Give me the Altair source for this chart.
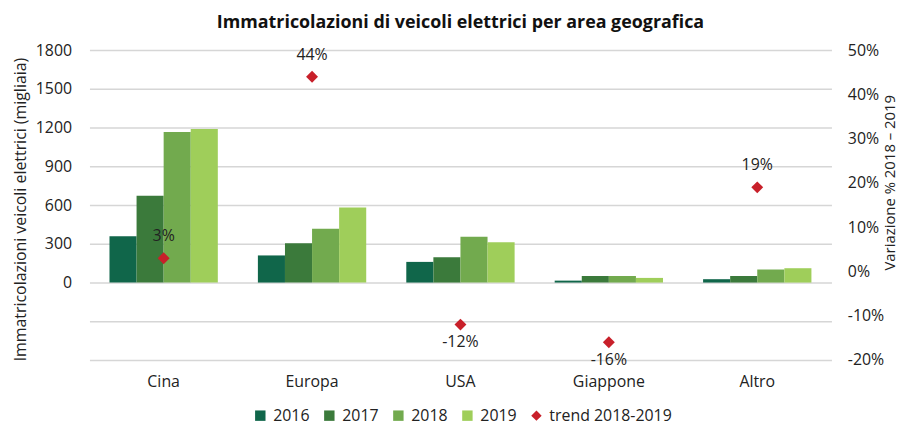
import altair as alt
import pandas as pd

categories = ["Cina", "Europa", "USA", "Giappone", "Altro"]
years = ["2016", "2017", "2018", "2019"]
v2016 = [358, 210, 160, 15, 26]
v2017 = [672, 305, 196, 51, 51]
v2018 = [1166, 416, 354, 51, 101]
v2019 = [1189, 582, 313, 36, 111]
trend = [0.03, 0.44, -0.12, -0.16, 0.19]
trend_name = "trend 2018-2019"

bar_colors = ["#10664A", "#3B7A3B", "#72AA4E", "#9FCE5A"]
trend_color = "#C8202A"

rows = []
for yr, vals in zip(years, [v2016, v2017, v2018, v2019]):
    for c, v in zip(categories, vals):
        rows.append({"area": c, "series": yr, "value": v})
df_bars = pd.DataFrame(rows)
df_trend = pd.DataFrame({"area": categories, "series": trend_name, "trend": trend})

FONT = "Open Sans"
all_series = years + [trend_name]
color_scale = alt.Scale(domain=all_series, range=bar_colors + [trend_color])
shape_scale = alt.Scale(domain=all_series, range=["square"] * 4 + ["diamond"])
leg = alt.Legend(title=None)

x_enc = alt.X("area:N", sort=categories,
              scale=alt.Scale(paddingInner=0.27, paddingOuter=0.135),
              axis=alt.Axis(title=None, labelAngle=0, ticks=False, domain=False,
                            labelPadding=14, labelFontSize=16))

bars = alt.Chart(df_bars).mark_bar().encode(
    x=x_enc,
    xOffset=alt.XOffset("series:N", sort=years),
    y=alt.Y("value:Q",
            scale=alt.Scale(domain=[-600, 1800], nice=False, zero=False),
            axis=alt.Axis(values=list(range(-600, 1801, 300)), format="d",
                          labelExpr="datum.value < 0 ? '' : datum.label",
                          grid=True, gridColor="#d6d6d6", gridWidth=1.5,
                          ticks=False, domain=False, labelPadding=18,
                          title="Immatricolazioni veicoli elettrici (migliaia)",
                          titleAngle=270, titleX=-69, titleY=160,
                          titleAlign="center", titleBaseline="middle",
                          titleFontSize=16)),
    color=alt.Color("series:N", scale=color_scale, legend=leg),
)

y_right = alt.Y("trend:Q",
                scale=alt.Scale(domain=[-0.2, 0.5], nice=False, zero=False),
                axis=alt.Axis(orient="right", format=".0%",
                              labelExpr="replace(datum.label, '\u2212', '-')",
                              values=[-0.2, -0.1, 0, 0.1, 0.2, 0.3, 0.4, 0.5],
                              grid=False, ticks=False, domain=False,
                              labelPadding=16,
                              title="Variazione % 2018 – 2019",
                              titleAngle=270, titleX=58, titleY=133,
                              titleAlign="center", titleBaseline="middle",
                              titleFontSize=15))

points = alt.Chart(df_trend).mark_point(filled=True, size=144, opacity=1).encode(
    x=alt.X("area:N", sort=categories),
    y=y_right,
    color=alt.Color("series:N", scale=color_scale, legend=leg),
    shape=alt.Shape("series:N", scale=shape_scale, legend=leg),
)

lab_expr = "replace(format(datum.trend, '.0%'), '\u2212', '-')"

labels_pos = alt.Chart(df_trend).transform_filter("datum.trend >= 0").transform_calculate(
    lab=lab_expr
).mark_text(
    font=FONT, fontSize=16, color="#222222", baseline="middle", dy=-22
).encode(
    x=alt.X("area:N", sort=categories),
    y=alt.Y("trend:Q"),
    text=alt.Text("lab:N"),
)
labels_neg = alt.Chart(df_trend).transform_filter("datum.trend < 0").transform_calculate(
    lab=lab_expr
).mark_text(
    font=FONT, fontSize=16, color="#222222", baseline="middle", dy=18
).encode(
    x=alt.X("area:N", sort=categories),
    y=alt.Y("trend:Q"),
    text=alt.Text("lab:N"),
)

right = alt.layer(points, labels_pos, labels_neg)

chart = alt.layer(bars, right).resolve_scale(y="independent").properties(
    width=747, height=312,
    autosize=alt.AutoSizeParams(type="none"),
    padding={"left": 82, "top": 41, "right": 68, "bottom": 64},
    title=alt.Title("Immatricolazioni di veicoli elettrici per area geografica",
                    font=FONT, fontSize=18, fontWeight="bold", color="#111111",
                    anchor="middle", frame="group", offset=10),
).configure_axis(
    labelFont=FONT, labelFontSize=16, labelColor="#222222",
    titleFont=FONT, titleFontWeight="normal", titleColor="#222222",
).configure_legend(
    orient="none", legendX=164, legendY=360, direction="horizontal",
    labelFont=FONT, labelFontSize=16, labelColor="#222222",
    symbolSize=110, symbolStrokeWidth=0, symbolOpacity=1,
    columnPadding=11.5, labelOffset=5,
).configure_view(stroke=None)

chart.save("out.html", embed_options={"renderer": "svg", "actions": False})
